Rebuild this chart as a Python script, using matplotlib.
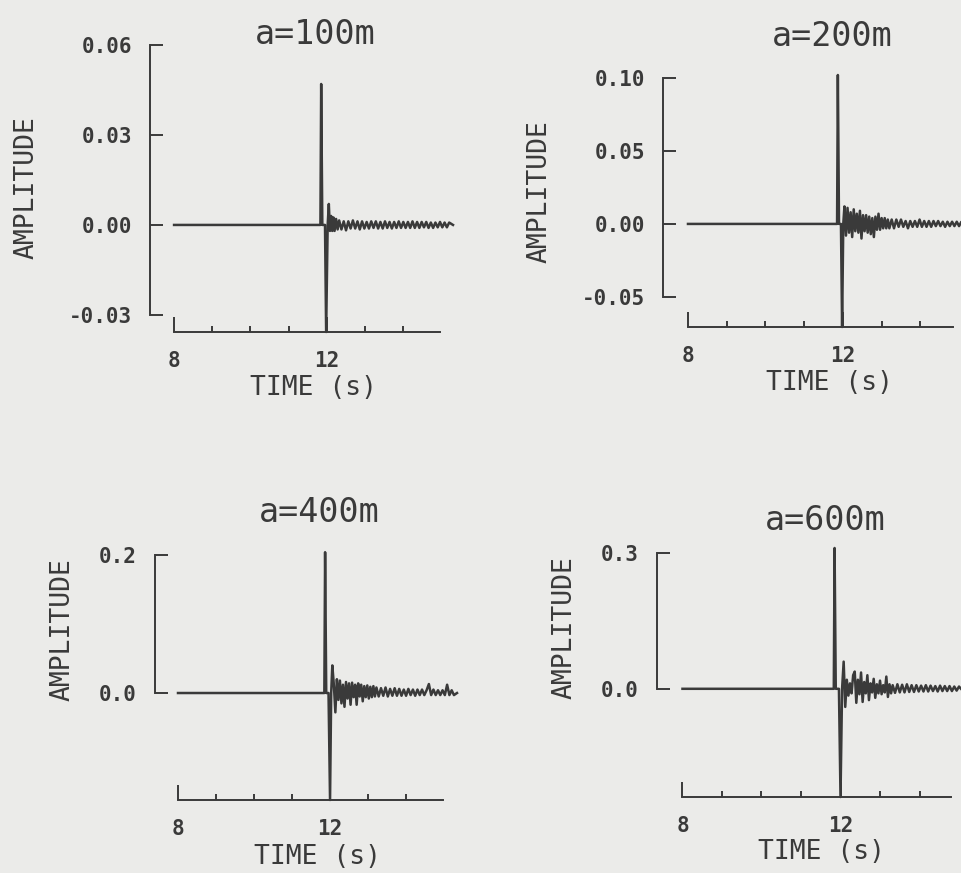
import matplotlib
matplotlib.use("Agg")
import matplotlib.pyplot as plt
from matplotlib.ticker import FixedLocator, FixedFormatter

# ---------------- data ----------------
titles = ["a=100m", "a=200m", "a=400m", "a=600m"]
x_label = "TIME (s)"
y_label = "AMPLITUDE"
x_major = [8, 12]
x_major_labels = ["8", "12"]
x_minor = [9, 10, 11, 13, 14]

y_ticks_100 = [0.06, 0.03, 0.00, -0.03]
y_labels_100 = ["0.06", "0.03", "0.00", "-0.03"]
y_ticks_200 = [0.10, 0.05, 0.00, -0.05]
y_labels_200 = ["0.10", "0.05", "0.00", "-0.05"]
y_ticks_400 = [0.2, 0.0]
y_labels_400 = ["0.2", "0.0"]
y_ticks_600 = [0.3, 0.0]
y_labels_600 = ["0.3", "0.0"]

t_100 = [8.00, 11.83, 11.85, 11.88, 11.95, 11.98, 12.02, 12.05, 12.08, 12.11,
         12.14, 12.17, 12.20, 12.24, 12.28,
         12.32, 12.38, 12.44, 12.50, 12.56, 12.62, 12.68, 12.74, 12.80, 12.86,
         12.92, 12.98, 13.04, 13.10, 13.16, 13.22, 13.28, 13.34, 13.40, 13.46,
         13.52, 13.58, 13.64, 13.70, 13.76, 13.82, 13.88, 13.94, 14.00, 14.06,
         14.12, 14.18, 14.24, 14.30, 14.36, 14.42, 14.48, 14.54, 14.60, 14.66,
         14.72, 14.78, 14.84, 14.90, 14.96, 15.02, 15.08, 15.14, 15.20, 15.30]
amp_100 = [0.000, 0.000, 0.047, 0.000, 0.000, -0.0357, 0.000, 0.007, -0.002, 0.003,
           -0.002, 0.0025, -0.002, 0.002, -0.0015,
           0.0015, -0.0015, 0.0012, -0.0018, 0.0012, -0.0012, 0.0015, -0.0012, 0.0012, -0.0015,
           0.0012, -0.0012, 0.0010, -0.0012, 0.0012, -0.0010, 0.0012, -0.0012, 0.0010, -0.0012,
           0.0012, -0.0010, 0.0010, -0.0012, 0.0010, -0.0010, 0.0012, -0.0010, 0.0010, -0.0010,
           0.0010, -0.0010, 0.0012, -0.0010, 0.0010, -0.0010, 0.0010, -0.0008, 0.0010, -0.0010,
           0.0008, -0.0010, 0.0008, -0.0008, 0.0010, -0.0008, 0.0008, -0.0008, 0.0008, 0.0000]

t_200 = [8.00, 11.85, 11.87, 11.90, 11.95, 11.98, 12.01,
         12.04, 12.08, 12.12, 12.16, 12.20, 12.24, 12.28, 12.32, 12.36, 12.40,
         12.44, 12.48, 12.52, 12.56, 12.60, 12.64, 12.68, 12.72, 12.76, 12.80,
         12.84, 12.88, 12.92, 12.96, 13.00, 13.04, 13.08, 13.12, 13.16, 13.20,
         13.26, 13.32, 13.38, 13.44, 13.50, 13.56, 13.62, 13.68, 13.74, 13.80,
         13.86, 13.92, 13.98, 14.04, 14.10, 14.16, 14.22, 14.28, 14.34, 14.40,
         14.46, 14.52, 14.58, 14.64, 14.70, 14.76, 14.82, 14.88, 14.94, 15.00, 15.05]
amp_200 = [0.000, 0.000, 0.102, 0.000, 0.000, -0.0706, 0.000,
           0.012, -0.008, 0.011, -0.006, 0.008, -0.009, 0.010, -0.005, 0.007, -0.006,
           0.009, -0.010, 0.006, -0.005, 0.006, -0.006, 0.005, -0.007, 0.004, -0.009,
           0.005, -0.004, 0.007, -0.004, 0.004, -0.003, 0.004, -0.003, 0.003, -0.003,
           0.003, -0.003, 0.003, -0.002, 0.003, -0.002, 0.002, -0.003, 0.002, -0.002,
           0.002, -0.002, 0.003, -0.002, 0.002, -0.002, 0.002, -0.002, 0.002, -0.0015,
           0.002, -0.0015, 0.0015, -0.002, 0.0015, -0.0015, 0.0015, -0.0015, 0.0015, -0.0015, 0.001]

t_400 = [8.00, 11.85, 11.87, 11.90, 11.96, 12.00, 12.03,
         12.06, 12.10, 12.14, 12.18, 12.22, 12.26, 12.30, 12.34, 12.38, 12.42,
         12.46, 12.50, 12.54, 12.58, 12.62, 12.66, 12.70, 12.74, 12.78, 12.82,
         12.86, 12.90, 12.94, 12.98, 13.02, 13.06, 13.10, 13.14, 13.18, 13.22,
         13.28, 13.34, 13.40, 13.46, 13.52, 13.58, 13.64, 13.70, 13.76, 13.82,
         13.88, 13.94, 14.00, 14.06, 14.12, 14.18, 14.24, 14.30, 14.36, 14.42,
         14.48, 14.54, 14.60, 14.66, 14.72, 14.78, 14.84, 14.90, 14.96, 15.02,
         15.08, 15.14, 15.20, 15.26, 15.34]
amp_400 = [0.000, 0.000, 0.204, 0.000, 0.000, -0.155, 0.000,
           0.040, 0.012, -0.028, 0.020, -0.010, 0.018, -0.015, 0.012, -0.020, 0.016,
           -0.008, 0.014, -0.017, 0.015, -0.006, 0.012, -0.017, 0.014, -0.005, 0.012,
           -0.012, 0.010, -0.006, 0.011, -0.008, 0.009, -0.006, 0.010, -0.005, 0.008,
           -0.005, 0.007, -0.004, 0.008, -0.005, 0.006, -0.004, 0.007, -0.004, 0.006,
           -0.004, 0.005, -0.004, 0.006, -0.003, 0.005, -0.004, 0.005, -0.003, 0.005,
           -0.003, 0.004, 0.013, -0.003, 0.005, -0.003, 0.004, -0.003, 0.004, -0.003,
           0.012, -0.003, 0.004, -0.003, 0.000]

t_600 = [8.00, 11.83, 11.85, 11.88, 11.96, 12.00, 12.04,
         12.08, 12.12, 12.16, 12.20, 12.24, 12.28, 12.32, 12.36, 12.40, 12.44,
         12.48, 12.52, 12.56, 12.60, 12.64, 12.68, 12.72, 12.76, 12.80, 12.84,
         12.88, 12.92, 12.96, 13.00, 13.04, 13.08, 13.12, 13.16, 13.20, 13.24,
         13.28, 13.32,
         13.38, 13.44, 13.50, 13.56, 13.62, 13.68, 13.74, 13.80, 13.86, 13.92,
         13.98, 14.04, 14.10, 14.16, 14.22, 14.28, 14.34, 14.40, 14.46, 14.52,
         14.58, 14.64, 14.70, 14.76, 14.82, 14.88, 14.94, 15.00, 15.05]
amp_600 = [0.000, 0.000, 0.311, 0.000, 0.000, -0.239, 0.000,
           0.060, -0.040, 0.020, -0.015, 0.012, -0.010, 0.030, 0.038, -0.031, 0.020,
           -0.012, 0.036, -0.029, 0.015, -0.010, 0.030, -0.025, 0.012, -0.008, 0.022,
           -0.020, 0.010, -0.010, 0.018, -0.012, 0.008, -0.008, 0.027, -0.018, 0.010,
           -0.010, 0.008,
           -0.009, 0.010, -0.008, 0.009, -0.008, 0.010, -0.007, 0.008, -0.007, 0.008,
           -0.006, 0.007, -0.006, 0.008, -0.006, 0.007, -0.005, 0.006, -0.006, 0.007,
           -0.005, 0.006, -0.005, 0.006, -0.005, 0.005, -0.004, 0.005, 0.000]

# ---------------- layout (pixels) ----------------
W, H = 961, 873
BG = "#ebebe9"
INK = "#3a3a3a"
FONT = "DejaVu Sans Mono"

panels = [
    dict(t=t_100, a=amp_100, yt=y_ticks_100, yl=y_labels_100,
         rect=(150, 45, 453, 332), xlim=(7.37, 15.30), ylim=(-0.0357, 0.06),
         ybounds=(-0.03, 0.06), xbounds=(8, 14.95),
         title_xy=(315, 34), ylab_xy=(27, 188), xlab_xy=(314, 388)),
    dict(t=t_200, a=amp_200, yt=y_ticks_200, yl=y_labels_200,
         rect=(663, 75, 961, 327), xlim=(7.355, 15.05), ylim=(-0.0706, 0.102),
         ybounds=(-0.05, 0.10), xbounds=(8, 14.85),
         title_xy=(832, 36), ylab_xy=(540, 192), xlab_xy=(830, 383)),
    dict(t=t_400, a=amp_400, yt=y_ticks_400, yl=y_labels_400,
         rect=(155, 552, 457, 800), xlim=(7.395, 15.34), ylim=(-0.155, 0.2043),
         ybounds=(0.0, 0.2), xbounds=(8, 14.97),
         title_xy=(319, 513), ylab_xy=(63, 630), xlab_xy=(317, 857)),
    dict(t=t_600, a=amp_600, yt=y_ticks_600, yl=y_labels_600,
         rect=(657, 548, 961, 797), xlim=(7.355, 15.05), ylim=(-0.239, 0.311),
         ybounds=(0.0, 0.3), xbounds=(8, 14.79),
         title_xy=(825, 521), ylab_xy=(565, 628), xlab_xy=(822, 852)),
]

fig = plt.figure(figsize=(W / 100, H / 100), dpi=100, facecolor=BG)

for p, title in zip(panels, titles):
    l, t, r, b = p["rect"]
    ax = fig.add_axes([l / W, 1 - b / H, (r - l) / W, (b - t) / H])
    ax.set_facecolor("none")
    ax.plot(p["t"], p["a"], color=INK, lw=1.8, clip_on=False)
    ax.set_xlim(*p["xlim"])
    ax.set_ylim(*p["ylim"])
    for s in ("top", "right"):
        ax.spines[s].set_visible(False)
    for s in ("left", "bottom"):
        ax.spines[s].set_color(INK)
        ax.spines[s].set_linewidth(1.4)
    ax.spines["left"].set_bounds(*p["ybounds"])
    ax.spines["bottom"].set_bounds(*p["xbounds"])

    ax.xaxis.set_major_locator(FixedLocator(x_major))
    ax.xaxis.set_major_formatter(FixedFormatter(x_major_labels))
    ax.xaxis.set_minor_locator(FixedLocator(x_minor))
    ax.yaxis.set_major_locator(FixedLocator(p["yt"]))
    ax.yaxis.set_major_formatter(FixedFormatter(p["yl"]))

    ax.tick_params(axis="x", which="major", direction="in", length=11, width=1.4,
                   pad=14, labelsize=15, colors=INK)
    ax.tick_params(axis="x", which="minor", direction="in", length=4.5, width=1.4,
                   colors=INK)
    ax.tick_params(axis="y", which="major", direction="in", length=9, width=1.4,
                   pad=13, labelsize=15, colors=INK)
    for lab in ax.get_xticklabels() + ax.get_yticklabels():
        lab.set_fontfamily(FONT)
        lab.set_fontweight("bold")

    tx, ty = p["title_xy"]
    fig.text(tx / W, 1 - ty / H, title, ha="center", va="center",
             fontsize=24, family=FONT, color=INK)
    yx, yy = p["ylab_xy"]
    fig.text(yx / W, 1 - yy / H, y_label, ha="center", va="center", rotation=90,
             fontsize=19, family=FONT, color=INK)
    xx, xy = p["xlab_xy"]
    fig.text(xx / W, 1 - xy / H, x_label, ha="center", va="center",
             fontsize=19, family=FONT, color=INK)

fig.savefig("out.png", dpi=100, facecolor=BG)
